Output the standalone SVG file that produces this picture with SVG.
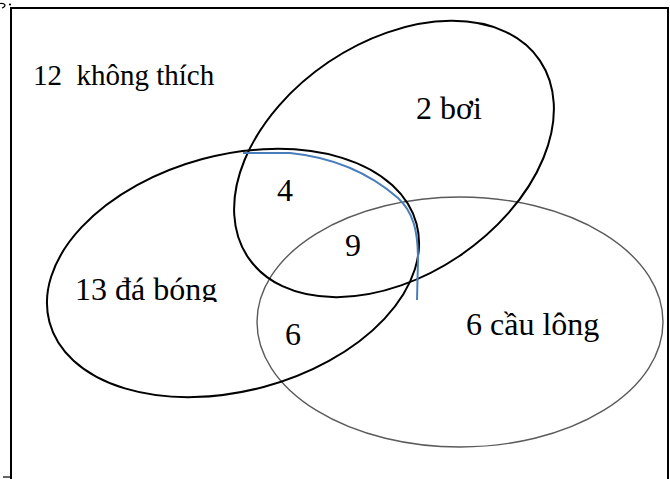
<svg xmlns="http://www.w3.org/2000/svg" width="670" height="479" viewBox="0 0 670 479">
<style>
text{font-family:"Liberation Serif","Times New Roman",serif;fill:#000}
.lbl{font-size:32px}
.blk{fill:none;stroke:#000;stroke-width:2}
.gry{fill:none;stroke:#5a5a5a;stroke-width:1.4}
</style>
<defs>
<clipPath id="clipText"><rect x="0" y="0" width="670" height="302"/></clipPath>
</defs>
<rect width="670" height="479" fill="#fff"/>
<g id="frame">
<rect x="11" y="8" width="657" height="476" fill="none" stroke="#000" stroke-width="2"/>
<line x1="3" y1="477" x2="10" y2="477" stroke="#333" stroke-width="1.5"/>
<path d="M0,3.5 Q4,3 5,5 Q5,7 2,8" fill="none" stroke="#000" stroke-width="1.2"/>
<circle cx="10" cy="4.5" r="1.1" fill="#000"/>
</g>
<g id="none">
<text x="33" y="85" style="font-size:29px;white-space:pre">12  không thích</text>
</g>
<g id="badminton">
<ellipse class="gry" cx="460" cy="322" rx="203" ry="125"/>
</g>
<g id="football">
<ellipse class="blk" cx="233" cy="273" rx="190" ry="118" transform="rotate(-15 233 273)"/>
</g>
<g id="swim">
<ellipse class="blk" cx="394" cy="159" rx="176" ry="117" transform="rotate(-34 394 159)"/>
</g>
<g id="connectors">
<path d="M243,153 L290,153 C340,158 375,178 398,198 C413,212 418,230 418,260 L417,300" fill="none" stroke="#4a7ebb" stroke-width="2"/>
</g>
<g id="labels">
<text class="lbl" x="416" y="119">2 bơi</text>
<text class="lbl" x="277" y="201">4</text>
<text class="lbl" x="345" y="256">9</text>
<text class="lbl" x="75" y="300" clip-path="url(#clipText)">13 đá bóng</text>
<text class="lbl" x="285" y="345">6</text>
<text class="lbl" x="466" y="335">6 cầu lông</text>
</g>
</svg>
